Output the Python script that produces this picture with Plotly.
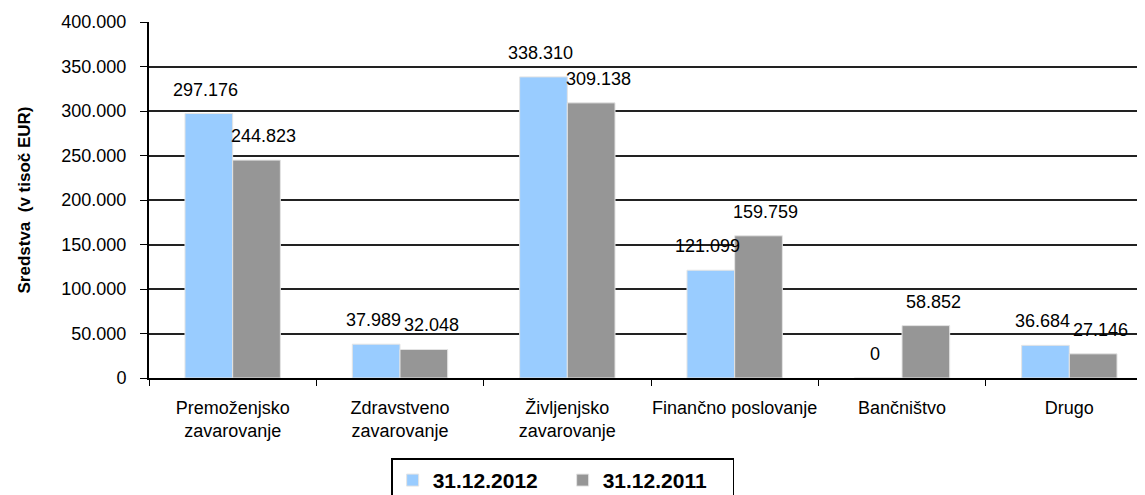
import plotly.graph_objects as go

# Categories and values (v tisoč EUR)
categories = [
    "Premoženjsko<br>zavarovanje",
    "Zdravstveno<br>zavarovanje",
    "Življenjsko<br>zavarovanje",
    "Finančno poslovanje",
    "Bančništvo",
    "Drugo",
]
values_2012 = [297176, 37989, 338310, 121099, 0, 36684]
values_2011 = [244823, 32048, 309138, 159759, 58852, 27146]
series_names = ["31.12.2012", "31.12.2011"]
series_colors = ["#99CCFF", "#969696"]

FONT = "Liberation Sans, Arial, sans-serif"


def fmt(v: int) -> str:
    """Slovenian thousands separator."""
    return f"{v:,}".replace(",", ".")


fig = go.Figure()

for name, vals, color in zip(series_names, [values_2012, values_2011], series_colors):
    fig.add_trace(
        go.Bar(
            x=categories,
            y=vals,
            name=f"<b>{name}</b>",
            marker=dict(color=color, line=dict(color="#e4e4e4", width=1)),
        )
    )

# Data labels above each bar (Excel-like "outside end" placement)
for vals, shift in [(values_2012, -27), (values_2011, 31)]:
    for cat, v in zip(categories, vals):
        fig.add_annotation(
            x=cat,
            y=v,
            text=fmt(v),
            showarrow=False,
            xshift=shift,
            yshift=24,
            yanchor="middle",
            font=dict(family=FONT, size=18, color="#000000"),
        )

# page body has an 8px margin, so margins are offset by it
fig.update_layout(
    width=1145,
    height=495,
    margin=dict(l=141, r=0, t=14, b=122),
    paper_bgcolor="#FFFFFF",
    plot_bgcolor="#FFFFFF",
    separators=",.",
    barmode="group",
    bargap=0.43,
    bargroupgap=0,
    font=dict(family=FONT, size=18, color="#000000"),
    xaxis=dict(
        automargin=False,
        showline=True,
        linecolor="#000000",
        linewidth=2,
        ticks="outside",
        tickson="boundaries",
        ticklen=6,
        tickcolor="#000000",
        tickangle=0,
        tickfont=dict(size=18),
        ticklabelstandoff=12,
        showgrid=False,
    ),
    yaxis=dict(
        automargin=False,
        range=[0, 400000],
        dtick=50000,
        tickformat=",d",
        showline=True,
        linecolor="#000000",
        linewidth=2,
        ticks="outside",
        ticklen=7,
        tickcolor="#000000",
        tickfont=dict(size=18),
        ticklabelstandoff=10,
        showgrid=True,
        gridcolor="#222222",
        gridwidth=1.5,
        zeroline=False,
        title=dict(
            text="<b>Sredstva\u00a0 (v tisoč EUR)</b>",
            font=dict(size=17),
            standoff=26,
        ),
    ),
    legend=dict(
        orientation="h",
        xref="paper",
        x=0.412,
        xanchor="center",
        y=-0.226,
        yanchor="top",
        bordercolor="#000000",
        borderwidth=1.5,
        font=dict(size=21, color="#000000"),
        entrywidth=125,
    ),
    showlegend=True,
)

fig.write_html("out.html")
